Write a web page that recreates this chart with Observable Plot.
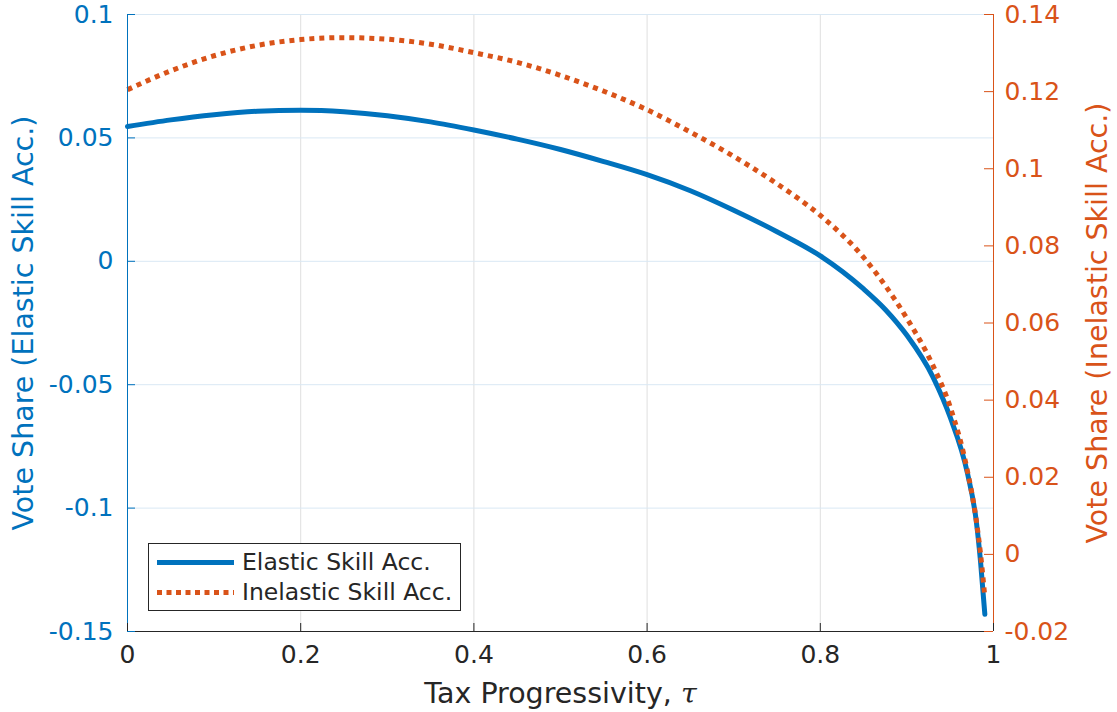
<!DOCTYPE html>
<html><head><meta charset="utf-8">
<script src="https://cdn.jsdelivr.net/npm/d3@7"></script>
<script src="https://cdn.jsdelivr.net/npm/@observablehq/plot@0.6"></script>
<style>
body{margin:0;background:#fff;}
#wrap{position:relative;width:1117px;height:712px;font-family:"DejaVu Sans",sans-serif;}
#legend{position:absolute;left:148px;top:543px;width:313px;height:68px;border:1px solid #262626;background:#fff;box-sizing:border-box;}
#legend .row{position:absolute;left:93px;font-size:23.5px;color:#262626;line-height:1;white-space:nowrap;}
#legend svg{position:absolute;left:0;top:0;}
</style></head><body><div id="wrap"></div>
<script>
// ---- data ----
const tau = [0, 0.05, 0.1, 0.15, 0.2, 0.25, 0.3, 0.35, 0.4, 0.45, 0.5, 0.55, 0.6, 0.65, 0.7, 0.75, 0.8, 0.85, 0.875, 0.9, 0.93, 0.95, 0.97, 0.98, 0.985, 0.99];
const elastic = [0.0546, 0.0573, 0.0594, 0.0608, 0.0612, 0.0606, 0.0590, 0.0565, 0.0532, 0.0495, 0.0453, 0.0404, 0.0351, 0.0286, 0.0207, 0.0120, 0.0022, -0.0112, -0.0195, -0.0300, -0.0468, -0.0632, -0.0860, -0.1050, -0.1215, -0.1430];
const inelastic = [0.1205, 0.1254, 0.1293, 0.1320, 0.1335, 0.1340, 0.1336, 0.1323, 0.1301, 0.1276, 0.1242, 0.1201, 0.1153, 0.1095, 0.1032, 0.0961, 0.0879, 0.0770, 0.0697, 0.0612, 0.0490, 0.0382, 0.0215, 0.0090, 0.0002, -0.0111];
const seriesNames = ["Elastic Skill Acc.", "Inelastic Skill Acc."];
const xTicks = [0, 0.2, 0.4, 0.6, 0.8, 1];
const xTickLabels = ["0", "0.2", "0.4", "0.6", "0.8", "1"];
const leftTicks = [-0.15, -0.1, -0.05, 0, 0.05, 0.1];
const leftTickLabels = ["-0.15", "-0.1", "-0.05", "0", "0.05", "0.1"];
const rightTicks = [-0.02, 0, 0.02, 0.04, 0.06, 0.08, 0.1, 0.12, 0.14];
const rightTickLabels = ["-0.02", "0", "0.02", "0.04", "0.06", "0.08", "0.1", "0.12", "0.14"];
const xLabel = "Tax Progressivity, ";
const xLabelSymbol = "τ";
const leftLabel = "Vote Share (Elastic Skill Acc.)";
const rightLabel = "Vote Share (Inelastic Skill Acc.)";
const leftDomain = [-0.15, 0.1];
const rightDomain = [-0.02, 0.14];

// ---- chart ----
const W = 1117, H = 712, mL = 127, mR = 124, mT = 14, mB = 81;
const plotW = W - mL - mR, plotH = H - mT - mB;
const blue = "#0072BD", orange = "#D95319", dark = "#262626";
const tickFont = 25, labelFont = 28.5;
const toLeft = d3.scaleLinear(rightDomain, leftDomain);

const dataE = tau.map((t, i) => ({t, v: elastic[i], s: seriesNames[0]}));
const dataI = tau.map((t, i) => ({t, v: toLeft(inelastic[i]), s: seriesNames[1]}));
const rightPos = rightTicks.map(d => toLeft(d));
const xMap = new Map(xTicks.map((d, i) => [d, xTickLabels[i]]));
const lMap = new Map(leftTicks.map((d, i) => [d, leftTickLabels[i]]));
const rMap = new Map(rightPos.map((d, i) => [d, rightTickLabels[i]]));

const chart = Plot.plot({
  width: W, height: H,
  marginLeft: mL, marginRight: mR, marginTop: mT, marginBottom: mB,
  style: {fontFamily: "DejaVu Sans", fontSize: tickFont + "px", background: "#fff", overflow: "visible"},
  x: {domain: [0, 1]},
  y: {domain: leftDomain},
  marks: [
    Plot.ruleX(xTicks.slice(1, -1), {stroke: "#dfdfdf", strokeWidth: 1}),
    Plot.ruleY(leftTicks, {stroke: "#d9e8f4", strokeWidth: 1}),
    Plot.line(dataE, {x: "t", y: "v", stroke: blue, strokeWidth: 5, curve: "monotone-x"}),
    Plot.line(dataI, {x: "t", y: "v", stroke: orange, strokeWidth: 5, strokeDasharray: "5,5", strokeLinecap: "butt", curve: "monotone-x"}),
    Plot.ruleY([leftDomain[0]], {stroke: dark, strokeWidth: 1}),
    Plot.ruleX([0], {stroke: blue, strokeWidth: 1}),
    Plot.ruleX([1], {stroke: orange, strokeWidth: 1}),
    Plot.ruleX(xTicks, {stroke: dark, insetTop: plotH - 8}),
    Plot.ruleY(leftTicks, {stroke: blue, insetRight: plotW - 8}),
    Plot.ruleY(rightPos, {stroke: orange, insetLeft: plotW - 9}),
    Plot.axisX(xTicks, {tickSize: 0, tickPadding: 14, tickFormat: d => xMap.get(d), fill: dark, fontSize: tickFont, label: null}),
    Plot.axisY(leftTicks, {anchor: "left", tickSize: 0, tickPadding: 14, tickFormat: d => lMap.get(d), fill: blue, fontSize: tickFont, label: null}),
    Plot.axisY(rightPos, {anchor: "right", tickSize: 0, tickPadding: 11, tickFormat: d => rMap.get(d), fill: orange, fontSize: tickFont, label: null}),
    Plot.text([leftLabel], {text: d => d, frameAnchor: "left", textAnchor: "middle", lineAnchor: "middle", rotate: -90, dx: -104, fill: blue, fontSize: labelFont}),
    Plot.text([rightLabel], {text: d => d, frameAnchor: "right", textAnchor: "middle", lineAnchor: "middle", rotate: -90, dx: 104, fill: orange, fontSize: labelFont}),
    Plot.text([xLabel + xLabelSymbol], {text: d => d, frameAnchor: "bottom", textAnchor: "middle", lineAnchor: "middle", dy: 62, fill: dark, fontSize: labelFont})
  ]
});

// italic tau in x label
d3.select(chart).selectAll("text").filter(function() { return this.textContent === xLabel + xLabelSymbol; })
  .each(function() {
    const t = d3.select(this);
    t.text(null);
    t.append("tspan").text(xLabel);
    t.append("tspan").attr("font-style", "italic").attr("font-family", "DejaVu Serif").text(xLabelSymbol);
  });

const wrap = document.getElementById("wrap");
wrap.appendChild(chart);

// legend
const legend = document.createElement("div");
legend.id = "legend";
legend.innerHTML = `<svg width="311" height="66">
  <line x1="8" x2="85" y1="18.5" y2="18.5" stroke="${blue}" stroke-width="5"/>
  <line x1="8" x2="85" y1="48.5" y2="48.5" stroke="${orange}" stroke-width="5" stroke-dasharray="5,4.5"/>
</svg>
<div class="row" style="top:7px">${seriesNames[0]}</div>
<div class="row" style="top:37px">${seriesNames[1]}</div>`;
wrap.appendChild(legend);
</script>
</body></html>
